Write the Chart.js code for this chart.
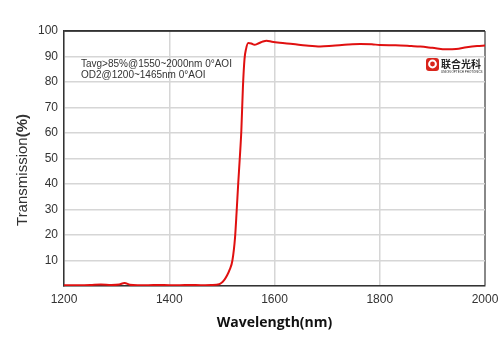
<!DOCTYPE html>
<html>
<head>
<meta charset="utf-8">
<script src="https://cdn.jsdelivr.net/npm/chart.js@4"></script>
<style>
body{margin:0;background:#fff;}
#wrap{width:500px;height:353px;}
</style>
</head>
<body>
<div id="wrap"><canvas id="chart" width="500" height="353"></canvas></div>
<script>
// spectrum
const wavelength = [1200,1230,1250,1270,1290,1305,1315,1325,1340,1360,1380,1400,1420,1440,1460,1480,1495,1505,1510,1515,1520,1525,1528,1531,1534,1537,1540,1543,1546,1550,1556,1562,1570,1578,1585,1595,1610,1635,1660,1687,1710,1740,1763,1785,1800,1830,1860,1877,1900,1927,1945,1965,1985,2000];
const transmission = [0.3,0.3,0.4,0.6,0.4,0.6,1.2,0.5,0.3,0.3,0.4,0.3,0.3,0.4,0.3,0.4,0.7,2.5,4.2,6.5,10,19,29,40,50,61,78,89,93,95.3,95.1,94.6,95.2,95.9,96.2,95.8,95.4,94.9,94.3,93.9,94.2,94.7,94.9,94.8,94.5,94.4,94.1,93.9,93.4,92.8,92.9,93.6,94.1,94.3];
const yTicks = [10,20,30,40,50,60,70,80,90,100];
const xTicks = [1200,1400,1600,1800,2000];
const notes = ["Tavg>85%@1550~2000nm 0°AOI","OD2@1200~1465nm 0°AOI"];

const extras = {
  id:"extras",
  afterDraw(chart){
    const ctx = chart.ctx;
    const a = chart.chartArea;
    ctx.save();
    // top frame line
    ctx.strokeStyle="#333";
    ctx.lineWidth=1.5;
    ctx.beginPath();
    ctx.moveTo(a.left,a.top);
    ctx.lineTo(a.right,a.top);
    ctx.stroke();
    // notes
    ctx.fillStyle="#333";
    ctx.font="10px 'Liberation Sans', Arial, sans-serif";
    ctx.textBaseline="middle";
    notes.forEach((t,i)=>ctx.fillText(t,81,64+i*11));
    // logo
    ctx.fillStyle="#d9251c";
    ctx.beginPath();
    ctx.roundRect(426,58,13,13,3);
    ctx.fill();
    ctx.strokeStyle="#fff";
    ctx.lineWidth=2;
    ctx.beginPath();
    ctx.arc(432.5,64,3.4,0,Math.PI*2);
    ctx.stroke();
    ctx.fillStyle="#222";
    ctx.font="bold 10px 'Noto Sans CJK SC', sans-serif";
    ctx.textBaseline="alphabetic";
    ctx.fillText("联合光科",441,67.5);
    ctx.font="3px 'Liberation Sans', Arial, sans-serif";
    ctx.fillText("UNION OPTECH PHOTONICS",441,72.5);
    // y title with bold (%)
    ctx.translate(23,170);
    ctx.rotate(-Math.PI/2);
    ctx.textBaseline="middle";
    ctx.fillStyle="#333";
    ctx.font="15px 'Liberation Sans', Arial, sans-serif";
    const w1 = ctx.measureText("Transmission").width;
    ctx.font="bold 15px 'Liberation Sans', Arial, sans-serif";
    const w2 = ctx.measureText("(%)").width;
    const start = -(w1+w2)/2;
    ctx.font="15px 'Liberation Sans', Arial, sans-serif";
    ctx.fillText("Transmission",start,0);
    ctx.font="bold 15px 'Liberation Sans', Arial, sans-serif";
    ctx.fillText("(%)",start+w1,0);
    ctx.restore();
  }
};

new Chart(
document.getElementById("chart"),
{
type:"line",
data:{
datasets:[{
data: wavelength.map((w,i)=>({x:w,y:transmission[i]})),
borderColor:"#e01010",
borderWidth:2,
pointRadius:0,
fill:false,
tension:.4,
cubicInterpolationMode:"monotone"
}]
},
options:{
responsive:false,
animation:false,
layout:{padding:{top:31,right:15,left:0,bottom:22}},
plugins:{legend:{display:false},tooltip:{enabled:false}},
scales:{
x:{
type:"linear",
min:1200,max:2000,
afterBuildTicks:s=>{s.ticks=xTicks.map(v=>({value:v}));},
afterFit:s=>{s.height=45;s.paddingRight=0;s.paddingLeft=0;},
ticks:{color:"#333",padding:6,font:{size:12,family:"'Liberation Sans', Arial, sans-serif"},maxRotation:0,callback:v=>String(v)},
grid:{drawTicks:false,color:c=>c.tick&&c.tick.value===2000?"#888":"#d6d6d6",lineWidth:c=>c.tick&&c.tick.value===2000?2:1.5},
border:{color:"#333",width:1.5},
title:{display:true,text:"Wavelength(nm)",color:"#111",font:{size:14,weight:"bold",family:"'Open Sans', 'DejaVu Sans', sans-serif"},padding:{top:4,bottom:0}}
},
y:{
min:0,max:100,
afterBuildTicks:s=>{s.ticks=[{value:0}].concat(yTicks.map(v=>({value:v})));},
afterFit:s=>{s.width=64;s.paddingTop=0;s.paddingBottom=0;},
ticks:{color:"#333",padding:6,font:{size:12,family:"'Liberation Sans', Arial, sans-serif"},callback:v=>v===0?"":v},
grid:{drawTicks:false,color:c=>c.tick&&c.tick.value===100?"#333":"#d6d6d6",lineWidth:1.5},
border:{color:"#333",width:1.5}
}
}
},
plugins:[extras]
});
</script>
</body>
</html>
